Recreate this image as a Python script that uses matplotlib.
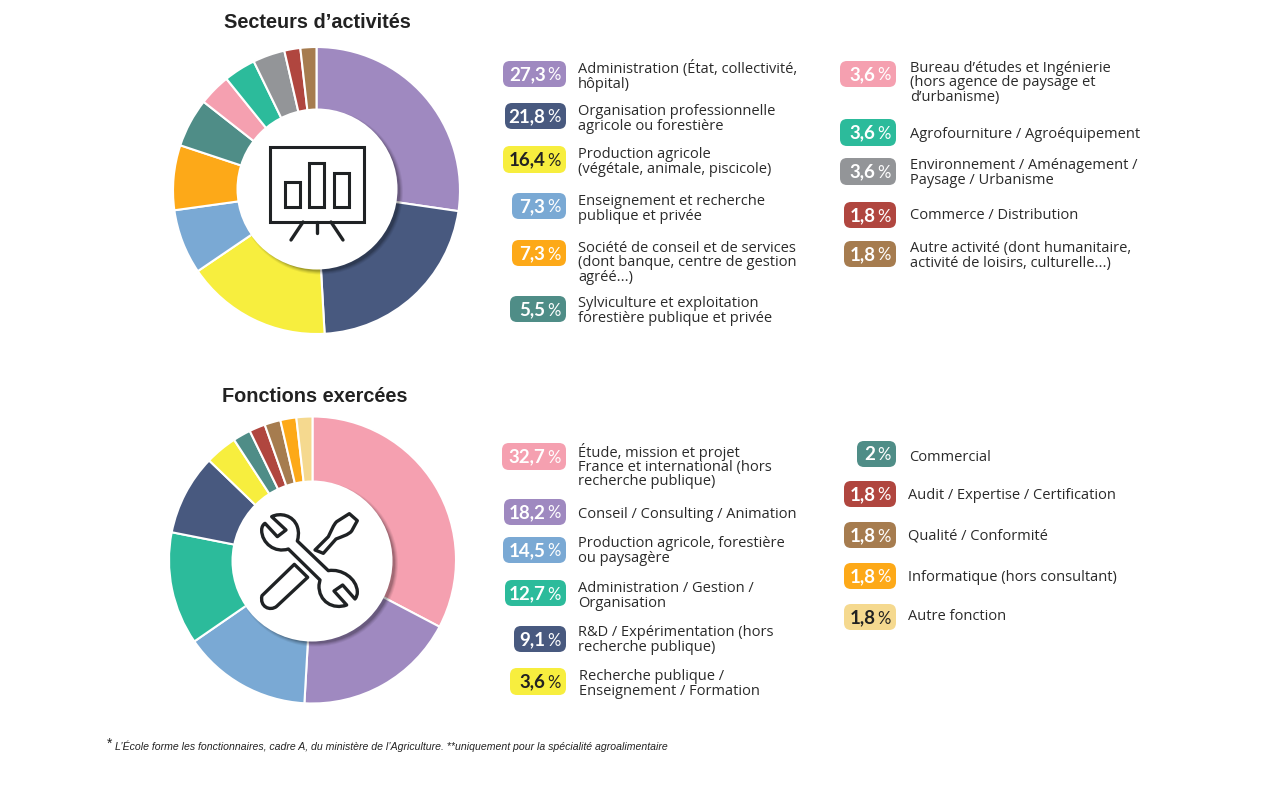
import matplotlib
matplotlib.use("Agg")
import matplotlib.pyplot as plt
from matplotlib.patches import Circle, FancyBboxPatch, PathPatch, Rectangle
from matplotlib.path import Path

W, H = 1280, 794

# valeurs
secteurs_values = [27.3, 21.8, 16.4, 7.3, 7.3, 5.5, 3.6, 3.6, 3.6, 1.8, 1.8]
secteurs_pct = ["27,3", "21,8", "16,4", "7,3", "7,3", "5,5", "3,6", "3,6", "3,6", "1,8", "1,8"]
secteurs_labels = [
    "Administration (État, collectivité,\nhôpital)",
    "Organisation professionnelle\nagricole ou forestière",
    "Production agricole\n(végétale, animale, piscicole)",
    "Enseignement et recherche\npublique et privée",
    "Société de conseil et de services\n(dont banque, centre de gestion\nagréé...)",
    "Sylviculture et exploitation\nforestière publique et privée",
    "Bureau d’études et Ingénierie\n(hors agence de paysage et\nd’urbanisme)",
    "Agrofourniture / Agroéquipement",
    "Environnement / Aménagement /\nPaysage / Urbanisme",
    "Commerce / Distribution",
    "Autre activité (dont humanitaire,\nactivité de loisirs, culturelle...)",
]
fonctions_values = [32.7, 18.2, 14.5, 12.7, 9.1, 3.6, 2, 1.8, 1.8, 1.8, 1.8]
fonctions_pct = ["32,7", "18,2", "14,5", "12,7", "9,1", "3,6", "2", "1,8", "1,8", "1,8", "1,8"]
fonctions_labels = [
    "Étude, mission et projet\nFrance et international (hors\nrecherche publique)",
    "Conseil / Consulting / Animation",
    "Production agricole, forestière\nou paysagère",
    "Administration / Gestion /\nOrganisation",
    "R&D / Expérimentation (hors\nrecherche publique)",
    "Recherche publique /\nEnseignement / Formation",
    "Commercial",
    "Audit / Expertise / Certification",
    "Qualité / Conformité",
    "Informatique (hors consultant)",
    "Autre fonction",
]

PURPLE, NAVY, YELLOW, BLUE, ORANGE = "#9f89c0", "#48597f", "#f7ee3e", "#7aa9d4", "#fda918"
TEAL, PINK, GREEN, GREY, RED, BROWN, SAND = "#4f8d87", "#f5a0b0", "#2cbb9b", "#939598", "#b0463f", "#a67c4f", "#f5d98f"
secteurs_colors = [PURPLE, NAVY, YELLOW, BLUE, ORANGE, TEAL, PINK, GREEN, GREY, RED, BROWN]
fonctions_colors = [PINK, PURPLE, BLUE, GREEN, NAVY, YELLOW, TEAL, RED, BROWN, ORANGE, SAND]
dark_on = [YELLOW, SAND]

# position des pastilles: gauche, haut, bas, y du texte, x du texte
secteurs_layout = [
    (503, 61, 87, 76, 578), (505, 103, 129, 119, 578), (503, 146, 173, 162, 578),
    (512, 193, 219, 209, 578), (512, 240, 266, 263, 578), (510, 296, 322, 311, 578),
    (840, 61, 87, 83, 910), (840, 119, 146, 133, 910), (840, 158, 185, 173, 910),
    (844, 202, 228, 214, 910), (844, 241, 267, 256, 910),
]
fonctions_layout = [
    (502, 443, 470, 466, 578), (504, 499, 525, 513, 578), (503, 537, 563, 551, 578),
    (505, 580, 606, 596, 578), (514, 626, 652, 640, 578), (510, 668, 695, 684, 579),
    (857, 441, 467, 456, 909), (844, 481, 507, 494, 908), (844, 522, 548, 534, 908),
    (844, 563, 589, 576, 908), (844, 604, 630, 615, 908),
]

fig = plt.figure(figsize=(W / 100, H / 100), dpi=100, facecolor="white")


def donut(cx, cy, values, colors):
    r = 143.5
    ax = fig.add_axes([(cx - r) / W, 1 - (cy + r) / H, 2 * r / W, 2 * r / H])
    ax.pie(values, colors=colors, startangle=90, counterclock=False, radius=1,
           wedgeprops={"edgecolor": "white", "linewidth": 1.5})
    ax.set_xlim(-1, 1)
    ax.set_ylim(-1, 1)
    ax.axis("off")


donut(316.5, 190.5, secteurs_values, secteurs_colors)
donut(312.5, 560, fonctions_values, fonctions_colors)

over = fig.add_axes([0, 0, 1, 1])
over.set_xlim(0, W)
over.set_ylim(H, 0)
over.axis("off")


def hole(cx, cy):
    for dr, a in [(2.5, .06), (1.5, .08), (0.5, .1), (-0.5, .14)]:
        over.add_patch(Circle((cx + 3.5, cy + 3), 80 + dr, fc="black", ec="none", alpha=a))
    over.add_patch(Circle((cx, cy), 80.5, fc="white", ec="none"))


hole(317, 189)
hole(312, 561)

INK = "#1f2224"
# icone tableau
over.add_patch(Rectangle((270, 147), 94, 75, fc="none", ec=INK, lw=2.2))
for x, y, w, h in [(285, 182, 15, 25), (309, 163, 15, 44), (334, 173, 15, 34)]:
    over.add_patch(Rectangle((x, y), w, h, fc="none", ec=INK, lw=2.2))
for xs, ys in [((303, 291), (222, 240)), ((317, 317), (222, 233)), ((331, 343), (222, 240))]:
    over.plot(xs, ys, color=INK, lw=2.4, solid_capstyle="round")


def shape(steps, **kw):
    # chemin en coordonnees du zoom: un point = ligne, trois points = courbe
    verts, codes = [], []
    for i, step in enumerate(steps):
        pts = [(160 + x / 3, 405 + y / 3) for x, y in step]
        verts += pts
        if i == 0:
            codes.append(Path.MOVETO)
        elif len(pts) == 1:
            codes.append(Path.LINETO)
        else:
            codes += [Path.CURVE4] * 3
    verts.append(verts[0])
    codes.append(Path.CLOSEPOLY)
    over.add_patch(PathPatch(Path(verts, codes), fc="white", ec=INK, lw=2.4, joinstyle="round"))


# icone outils: tournevis puis cle
shape([[(403, 478)], [(443, 517)], [(350, 604)],
       [(330, 620), (298, 605), (306, 572)]])
shape([[(465, 435)], [(505, 395)], [(515, 375), (520, 360), (530, 350)], [(568, 326)], [(592, 347)],
       [(575, 378)], [(565, 390), (545, 395), (528, 402)], [(490, 445)]])
shape([[(335, 335)], [(360, 322), (400, 330), (412, 365)], [(418, 385), (415, 395), (412, 408)],
       [(505, 497)], [(545, 490), (590, 520), (592, 560)], [(592, 570), (590, 575), (585, 582)],
       [(548, 540)], [(522, 558)], [(560, 600)], [(520, 615), (475, 590), (477, 540)], [(480, 525)],
       [(385, 432)], [(345, 445), (305, 415), (305, 375)], [(305, 365), (310, 358), (315, 355)],
       [(352, 395)], [(378, 375)]])

FONT = "Open Sans"
TXT = "#2a2a2a"


def badges(values, colors, labels, layout):
    for pct, color, label, (x0, top, bottom, ty, tx) in zip(values, colors, labels, layout):
        right = 566 if x0 < 700 else 896
        over.add_patch(FancyBboxPatch((x0 + 7, top + 7), right - x0 - 14, bottom - top - 14,
                                      boxstyle="round,pad=7,rounding_size=7", fc=color, ec="none"))
        c = "#222222" if color in dark_on else "white"
        ym = (top + bottom) / 2
        over.text(right - 5, ym + 1.5, "%", ha="right", va="center", fontsize=12,
                  color=c, family="Lato")
        over.text(right - 20.5, ym + 0.5, pct, ha="right", va="center", fontsize=13.5,
                  color=c, family="Lato", weight="bold")
        # les libelles d'une ligne sont un peu plus bas
        dy = 1.5 if "\n" not in label else 0
        over.text(tx, ty + dy, label, ha="left", va="center", fontsize=10.5, color=TXT,
                  family=FONT, linespacing=0.94)


badges(secteurs_pct, secteurs_colors, secteurs_labels, secteurs_layout)
badges(fonctions_pct, fonctions_colors, fonctions_labels, fonctions_layout)

for x, y, title in [(317, 23, "Secteurs d’activités"), (314.5, 396, "Fonctions exercées")]:
    over.text(x, y, title, ha="center", va="center", fontsize=14.3, weight="bold",
              family="Liberation Sans", color="#222222")

over.text(107, 744, "*", ha="left", va="center", fontsize=10, family="Liberation Sans", color="#222222")
over.text(115, 746, "L’École forme les fonctionnaires, cadre A, du ministère de l’Agriculture. **uniquement pour la spécialité agroalimentaire",
          ha="left", va="center", fontsize=7.57, style="italic", family="Liberation Sans", color="#222222")

fig.savefig("out.png", dpi=100)
